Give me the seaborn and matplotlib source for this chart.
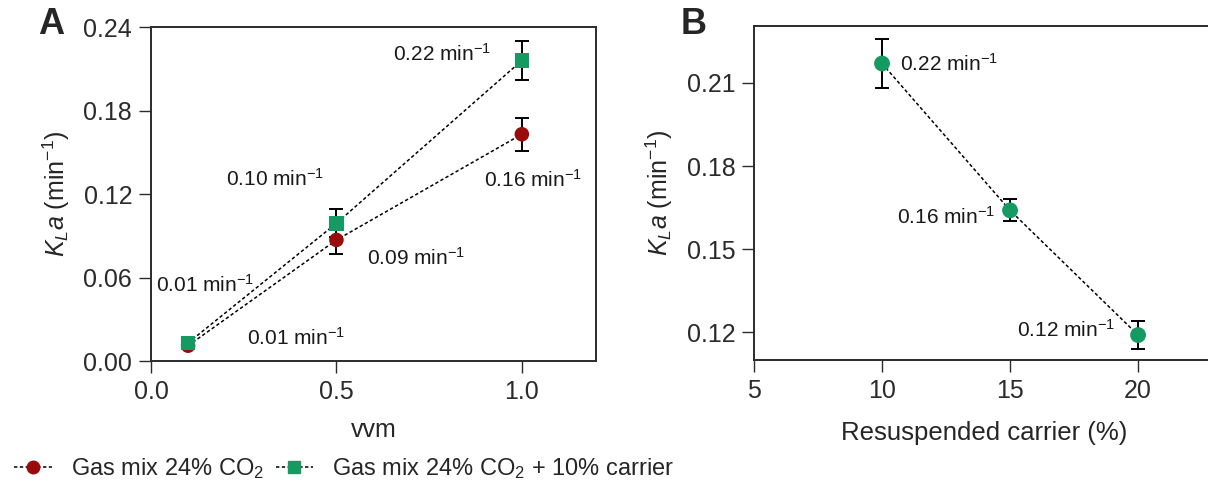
import numpy as np
import pandas as pd
import matplotlib
matplotlib.use("Agg")
import matplotlib.pyplot as plt
from matplotlib.lines import Line2D
import seaborn as sns

# panel A : kLa vs vvm
vvm = [0.1, 0.5, 1.0]
kla_gas = [0.011, 0.087, 0.163]
err_gas = [0.002, 0.010, 0.012]
kla_carrier = [0.013, 0.099, 0.216]
err_carrier = [0.002, 0.010, 0.014]
series_names = ["Gas mix 24% CO$_2$", "Gas mix 24% CO$_2$ + 10% carrier"]

# panel B : kLa vs resuspended carrier
carrier_pct = [10, 15, 20]
kla_b = [0.217, 0.164, 0.119]
err_b = [0.009, 0.004, 0.005]

RED = "#9a0c0c"
GREEN = "#159a62"
INK = "#2b2b2b"

sns.set_style("ticks")
plt.rcParams["font.family"] = ["Liberation Sans", "DejaVu Sans"]
plt.rcParams["mathtext.fontset"] = "custom"
plt.rcParams["mathtext.rm"] = "Liberation Sans"
plt.rcParams["mathtext.it"] = "Liberation Sans:italic"
plt.rcParams["axes.edgecolor"] = INK
plt.rcParams["xtick.color"] = INK
plt.rcParams["ytick.color"] = INK

FS = 18
dash = (2.2, 1.6)

fig = plt.figure(figsize=(12.08, 4.86), dpi=100)
axA = fig.add_axes([0.125, 0.2572, 0.3684, 0.687])
axB = fig.add_axes([0.6242, 0.2593, 0.3815, 0.687])

df_a = pd.DataFrame({
    "vvm": vvm * 2,
    "kla": kla_gas + kla_carrier,
    "err": err_gas + err_carrier,
    "series": [series_names[0]] * 3 + [series_names[1]] * 3,
})
df_b = pd.DataFrame({"carrier": carrier_pct, "kla": kla_b, "err": err_b})

# ---- panel A
for name, col, mk in zip(series_names, [RED, GREEN], ["o", "s"]):
    d = df_a[df_a["series"] == name]
    sns.lineplot(data=d, x="vvm", y="kla", ax=axA, color="black", lw=1.1,
                 legend=False, zorder=2)
    axA.lines[-1].set_dashes(dash)
    axA.errorbar(d["vvm"], d["kla"], yerr=d["err"], fmt="none", ecolor="black",
                 elinewidth=1.4, capsize=5, capthick=1.4, zorder=3)
    sns.scatterplot(data=d, x="vvm", y="kla", ax=axA, color=col, marker=mk,
                    s=110, edgecolor="none", legend=False, zorder=4)

axA.set_xlim(0, 1.2)
axA.set_ylim(0, 0.24)
axA.set_xticks([0.0, 0.5, 1.0])
axA.set_xticklabels(["0.0", "0.5", "1.0"])
axA.set_yticks([0.0, 0.06, 0.12, 0.18, 0.24])
axA.set_yticklabels(["0.00", "0.06", "0.12", "0.18", "0.24"])
axA.set_xlabel("vvm", fontsize=FS, labelpad=10)
axA.set_ylabel(r"$K_La$ (min$^{-1}$)", fontsize=FS, labelpad=8)

# label offsets in pixels (series, index) -> (dx, dy)
offs_a = {(1, 2): (-80, 7), (0, 2): (11, -46), (1, 1): (-61, 44),
          (0, 1): (80, -18), (1, 0): (17, 58), (0, 0): (108, 8)}
for si, vals in enumerate([kla_gas, kla_carrier]):
    for i, v in enumerate(vals):
        axA.annotate(f"{v:.2f} min$^{{-1}}$", (vvm[i], v),
                     xytext=offs_a[(si, i)], textcoords="offset pixels",
                     ha="center", va="center", fontsize=FS - 3, color="#1a1a1a")

# ---- panel B
sns.lineplot(data=df_b, x="carrier", y="kla", ax=axB, color="black", lw=1.1,
             legend=False, zorder=2)
axB.lines[-1].set_dashes(dash)
axB.errorbar(df_b["carrier"], df_b["kla"], yerr=df_b["err"], fmt="none",
             ecolor="black", elinewidth=1.4, capsize=5, capthick=1.4, zorder=3)
sns.scatterplot(data=df_b, x="carrier", y="kla", ax=axB, color=GREEN,
                s=130, edgecolor="none", legend=False, zorder=4)
axB.set_xlim(5, 23)
axB.set_ylim(0.11, 0.2305)
axB.set_xticks([5, 10, 15, 20])
axB.set_yticks([0.12, 0.15, 0.18, 0.21])
axB.set_yticklabels(["0.12", "0.15", "0.18", "0.21"])
axB.set_xlabel("Resuspended carrier (%)", fontsize=FS + 0.5, labelpad=13)
axB.set_ylabel(r"$K_La$ (min$^{-1}$)", fontsize=FS, labelpad=8)

offs_b = [((18, 0), "left"), ((-15, -6), "right"), ((-23, 5), "right")]
for i, v in enumerate(kla_b):
    (dx, dy), ha = offs_b[i]
    axB.annotate(f"{v:.2f} min$^{{-1}}$", (carrier_pct[i], v),
                 xytext=(dx, dy), textcoords="offset pixels",
                 ha=ha, va="center", fontsize=FS - 3, color="#1a1a1a")

for ax in (axA, axB):
    ax.tick_params(labelsize=FS, length=8.5, width=1.0, direction="out", pad=5)
    for sp in ax.spines.values():
        sp.set_linewidth(1.4)
        sp.set_visible(True)

# panel letters
fig.text(0.042, 0.949, "A", fontsize=26, fontweight="bold", va="center", ha="center")
fig.text(0.574, 0.949, "B", fontsize=26, fontweight="bold", va="center", ha="center")

# legend
handles = [
    Line2D([], [], color="black", lw=1.1, dashes=dash, marker="o", markersize=9,
           markerfacecolor=RED, markeredgecolor=RED),
    Line2D([], [], color="black", lw=1.1, dashes=dash, marker="s", markersize=9,
           markerfacecolor=GREEN, markeredgecolor=GREEN),
]
fig.legend(handles, series_names, loc="center left", bbox_to_anchor=(-0.006, 0.035),
           ncol=2, frameon=False, fontsize=FS - 1, handlelength=1.6, handletextpad=0.8,
           columnspacing=0.5, markerscale=1.0)

fig.savefig("out.png", dpi=100)
